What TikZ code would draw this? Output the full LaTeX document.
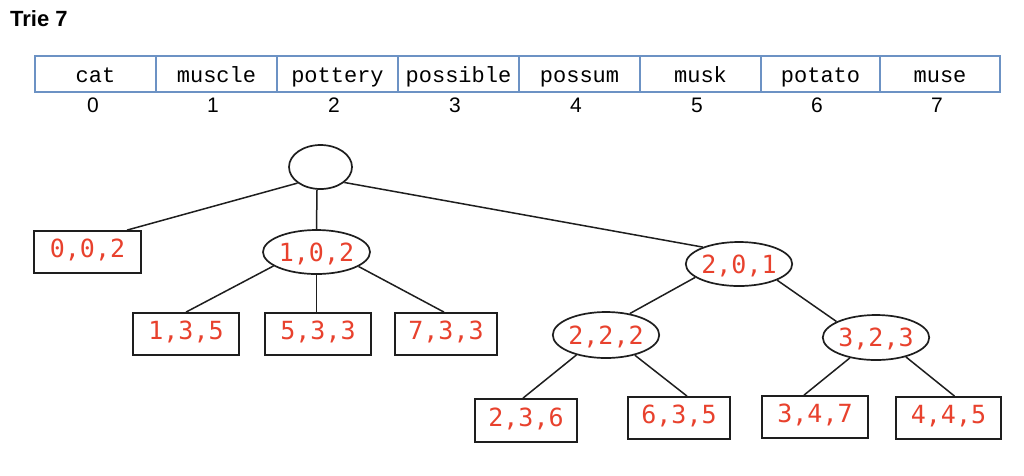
\documentclass[tikz,border=0pt]{standalone}
\usepackage{fontspec}
\setmainfont{Liberation Sans}
\newfontfamily\courierf{Liberation Mono}
\newfontfamily\monof{DejaVu Sans Mono}
\usetikzlibrary{shapes.geometric}
\definecolor{cellblue}{RGB}{108,146,196}
\definecolor{valred}{RGB}{232,65,45}
\definecolor{edgegray}{RGB}{30,30,30}
\tikzset{
  cell/.style={draw=cellblue, line width=2.2pt, minimum height=36pt, inner sep=0pt,
    text height=18pt, text depth=2pt, font=\courierf\fontsize{22}{22}\selectfont},
  idx/.style={inner sep=0pt, text height=15pt, text depth=0pt, font=\fontsize{21}{21}\selectfont},
  leaf/.style={draw=edgegray, line width=1.8pt, minimum height=42pt, inner sep=0pt,
    text height=18pt, text depth=7pt, text=valred, font=\monof\fontsize{25}{25}\selectfont},
  inner/.style={ellipse, draw=edgegray, line width=1.7pt, minimum width=106pt, minimum height=44pt,
    inner sep=0pt, text height=18pt, text depth=0pt, text=valred, font=\monof\fontsize{25}{25}\selectfont},
  conn/.style={draw=edgegray, line width=1.5pt}
}
\begin{document}
\begin{tikzpicture}[x=1pt,y=-1pt]
\fill[white] (0,0) rectangle (1024,475);
\path[use as bounding box] (0,0) rectangle (1024,475);

\node[anchor=base west, inner sep=0pt, font=\bfseries\fontsize{22}{22}\selectfont] (title) at (10,26) {Trie 7};

% array
\node[cell, minimum width=121pt] (c0) at (95.5,74) {cat};
\node[cell, minimum width=121pt] (c1) at (216.5,74) {muscle};
\node[cell, minimum width=121pt] (c2) at (337.5,74) {pottery};
\node[cell, minimum width=121pt] (c3) at (458.5,74) {possible};
\node[cell, minimum width=121pt] (c4) at (579.5,74) {possum};
\node[cell, minimum width=121pt] (c5) at (700.5,74) {musk};
\node[cell, minimum width=119pt] (c6) at (820.5,74) {potato};
\node[cell, minimum width=120pt] (c7) at (940,74) {muse};

\node[idx] (i0) at (93,104.5) {0};
\node[idx] (i1) at (213,104.5) {1};
\node[idx] (i2) at (334,104.5) {2};
\node[idx] (i3) at (455,104.5) {3};
\node[idx] (i4) at (576,104.5) {4};
\node[idx] (i5) at (697,104.5) {5};
\node[idx] (i6) at (817,104.5) {6};
\node[idx] (i7) at (937,104.5) {7};

% tree
\node[ellipse, draw=edgegray, line width=1.7pt, minimum width=63pt, minimum height=44pt, inner sep=0pt] (root) at (320.5,167) {};

\node[leaf, minimum width=107pt] (b002) at (87.5,252) {0,0,2};
\node[inner, minimum width=107pt] (n102) at (316.5,252) {1,0,2};
\node[inner] (n201) at (739,264) {2,0,1};

\node[leaf, minimum width=106pt] (b135) at (186,334) {1,3,5};
\node[leaf, minimum width=106pt] (b533) at (318,334) {5,3,3};
\node[leaf, minimum width=102pt] (b733) at (446,334) {7,3,3};

\node[inner, minimum height=46pt] (n222) at (606,335) {2,2,2};
\node[inner, minimum height=45pt] (n323) at (876,337.5) {3,2,3};

\node[leaf, minimum width=102pt, minimum height=43pt] (b236) at (526,420.5) {2,3,6};
\node[leaf, minimum width=102pt] (b635) at (679,418) {6,3,5};
\node[leaf, minimum width=106pt] (b347) at (815,417) {3,4,7};
\node[leaf, minimum width=105pt] (b445) at (948.5,418) {4,4,5};

\draw[conn] (root.215) -- ([xshift=39.5pt]b002.north);
\draw[conn] ([xshift=-3.5pt]root.south) -- (n102.north);
\draw[conn] (root.-33) -- (n201.155);

\draw[conn] (n102.198) -- (b135.north);
\draw[conn] (n102.south) -- ([xshift=-1.5pt]b533.north);
\draw[conn] (n102.-19) -- ([xshift=-2pt]b733.north);

\draw[conn] (n201.197) -- (n222.42);
\draw[conn] (n201.-23) -- (n323.158);

\draw[conn] (n222.214) -- ([xshift=-3pt]b236.north);
\draw[conn] (n222.-35) -- ([xshift=8pt]b635.north);
\draw[conn] (n323.218) -- ([xshift=-11pt]b347.north);
\draw[conn] (n323.-33) -- ([xshift=6pt]b445.north);
\end{tikzpicture}
\end{document}
